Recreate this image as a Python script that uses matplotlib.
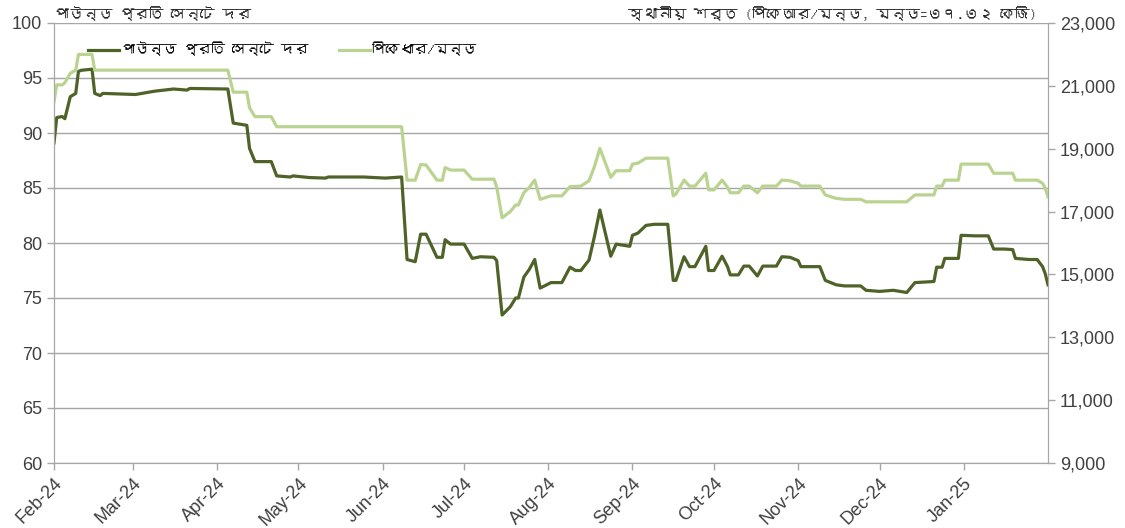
import numpy as np
import pandas as pd
import matplotlib
matplotlib.use("Agg")
import matplotlib.pyplot as plt
import matplotlib.font_manager as fm
from matplotlib.ft2font import FT2Font
from matplotlib.ticker import FuncFormatter, MultipleLocator

# data
dates = ["2024-02-01", "2024-02-02", "2024-02-04", "2024-02-05", "2024-02-07", "2024-02-09",
         "2024-02-10", "2024-02-11", "2024-02-15", "2024-02-16", "2024-02-18", "2024-02-19",
         "2024-03-02", "2024-03-09", "2024-03-16", "2024-03-21", "2024-03-22", "2024-04-05",
         "2024-04-07", "2024-04-12", "2024-04-13", "2024-04-15", "2024-04-21", "2024-04-23",
         "2024-04-28", "2024-04-29", "2024-05-05", "2024-05-11", "2024-05-12", "2024-05-25",
         "2024-06-02", "2024-06-08", "2024-06-10", "2024-06-13", "2024-06-15", "2024-06-17",
         "2024-06-21", "2024-06-23", "2024-06-24", "2024-06-26", "2024-07-01", "2024-07-04",
         "2024-07-07", "2024-07-12", "2024-07-13", "2024-07-15", "2024-07-18", "2024-07-20",
         "2024-07-21", "2024-07-23", "2024-07-25", "2024-07-27", "2024-07-29", "2024-08-02",
         "2024-08-06", "2024-08-09", "2024-08-11", "2024-08-13", "2024-08-16", "2024-08-18",
         "2024-08-20", "2024-08-24", "2024-08-26", "2024-08-31", "2024-09-01", "2024-09-03",
         "2024-09-06", "2024-09-09", "2024-09-14", "2024-09-16", "2024-09-17", "2024-09-20",
         "2024-09-22", "2024-09-24", "2024-09-28", "2024-09-29", "2024-10-01", "2024-10-04",
         "2024-10-06", "2024-10-07", "2024-10-10", "2024-10-12", "2024-10-14", "2024-10-17",
         "2024-10-19", "2024-10-24", "2024-10-26", "2024-10-29", "2024-11-01", "2024-11-02",
         "2024-11-09", "2024-11-11", "2024-11-15", "2024-11-18", "2024-11-24", "2024-11-26",
         "2024-12-01", "2024-12-06", "2024-12-11", "2024-12-14", "2024-12-21", "2024-12-22",
         "2024-12-24", "2024-12-25", "2024-12-30", "2024-12-31", "2025-01-05", "2025-01-10",
         "2025-01-12", "2025-01-16", "2025-01-19", "2025-01-20", "2025-01-25", "2025-01-28",
         "2025-01-30", "2025-01-31", "2025-02-01"]

cents_per_lb = [89.1, 91.4, 91.5, 91.3, 93.3, 93.6,
                95.6, 95.7, 95.8, 93.6, 93.4, 93.6,
                93.5, 93.8, 94.0, 93.9, 94.05, 94.0,
                90.9, 90.7, 88.6, 87.4, 87.4, 86.1,
                86.0, 86.1, 85.95, 85.9, 86.0, 86.0,
                85.9, 86.0, 78.5, 78.3, 80.8, 80.8,
                78.7, 78.7, 80.3, 79.9, 79.9, 78.6,
                78.75, 78.7, 78.4, 73.45, 74.2, 75.0,
                75.0, 76.9, 77.6, 78.5, 75.9, 76.4,
                76.4, 77.8, 77.5, 77.5, 78.45, 80.6,
                83.0, 78.8, 79.9, 79.7, 80.7, 80.9,
                81.6, 81.7, 81.7, 76.6, 76.6, 78.75,
                77.85, 77.85, 79.7, 77.5, 77.5, 78.8,
                77.85, 77.1, 77.1, 77.9, 77.9, 77.0,
                77.9, 77.9, 78.75, 78.7, 78.4, 77.85,
                77.85, 76.6, 76.2, 76.1, 76.1, 75.7,
                75.6, 75.7, 75.5, 76.4, 76.5, 77.8,
                77.8, 78.6, 78.6, 80.7, 80.65, 80.65,
                79.45, 79.45, 79.4, 78.6, 78.5, 78.5,
                77.85, 77.2, 76.2]

pkr_per_maund = [20500, 21030, 21030, 21100, 21400, 21500,
                 22000, 22000, 22000, 21500, 21500, 21500,
                 21500, 21500, 21500, 21500, 21500, 21500,
                 20800, 20800, 20300, 20020, 20020, 19700,
                 19700, 19700, 19700, 19700, 19700, 19700,
                 19700, 19700, 18000, 18000, 18500, 18480,
                 18000, 18000, 18400, 18320, 18320, 18030,
                 18030, 18030, 17790, 16800, 17000, 17210,
                 17210, 17600, 17770, 18000, 17390, 17500,
                 17500, 17790, 17800, 17810, 17980, 18430,
                 19010, 18090, 18300, 18300, 18510, 18540,
                 18700, 18700, 18700, 17500, 17560, 18000,
                 17810, 17810, 18220, 17690, 17690, 18000,
                 17770, 17600, 17600, 17810, 17810, 17600,
                 17810, 17810, 18000, 17980, 17900, 17810,
                 17810, 17530, 17420, 17390, 17390, 17310,
                 17310, 17310, 17310, 17530, 17530, 17810,
                 17810, 18000, 18000, 18510, 18510, 18510,
                 18220, 18220, 18220, 18000, 18000, 18000,
                 17900, 17740, 17470]

right_ticks = [9000, 11000, 13000, 15000, 17000, 19000, 21000, 23000]

left_title = "পাউন্ড প্রতি সেন্টে দর"
right_title = "স্থানীয় শর্ত (পিকেআর/মন্ড, মন্ড=৩৭.৩২ কেজি)"
label_cents = "পাউন্ড প্রতি সেন্টে দর"
label_pkr = "পিকেধার/মন্ড"

# find a font that can draw Bengali
bn_font = None
for f in fm.fontManager.ttflist:
    try:
        if 0x09AA in FT2Font(f.fname).get_charmap():
            bn_font = f.name
            break
    except Exception:
        pass
bn_family = [bn_font, "DejaVu Sans"] if bn_font else ["DejaVu Sans"]

plt.rcParams["font.family"] = ["Liberation Sans", "DejaVu Sans"]

x = pd.to_datetime(dates)
dark = "#4F6228"
light = "#BBD391"
grid_c = "#A6A6A6"
text_c = "#404040"

fig = plt.figure(figsize=(11.25, 5.28), dpi=100)
ax = fig.add_axes([54 / 1125, 65 / 528, 994 / 1125, 440 / 528])
ax2 = ax.twinx()

l1, = ax.plot(x, cents_per_lb, color=dark, lw=2.3, solid_joinstyle="round")
l2, = ax2.plot(x, pkr_per_maund, color=light, lw=2.3, solid_joinstyle="round")

ax.set_ylim(60, 100)
ax.yaxis.set_major_locator(MultipleLocator(5))
ax2.set_ylim(9000, 23000)
ax2.set_yticks(right_ticks)
ax2.yaxis.set_major_formatter(FuncFormatter(lambda v, p: f"{v:,.0f}"))

ax.set_xlim(pd.Timestamp("2024-02-01"), pd.Timestamp("2025-02-01"))
ticks = list(pd.date_range("2024-02-01", "2025-01-01", freq="MS"))
ax.set_xticks(ticks)
ax.set_xticklabels([t.strftime("%b-%y") for t in ticks], rotation=45,
                   ha="right", va="top", rotation_mode="anchor")

ax.grid(axis="y", color=grid_c, lw=1.0)
ax.set_axisbelow(True)
for a in (ax, ax2):
    for s in a.spines.values():
        s.set_color(grid_c)
    a.spines["top"].set_visible(False)
    a.tick_params(colors=grid_c, labelcolor=text_c, labelsize=13, length=5, width=1)

ax.legend([l1, l2], [label_cents, label_pkr], loc="upper left",
          bbox_to_anchor=(0.022, 0.985), ncol=2, frameon=False,
          handlelength=2.2, handletextpad=0.15, columnspacing=2.2,
          prop={"family": bn_family, "size": 10})

fig.text(54 / 1125, 1 - 14 / 528, left_title, family=bn_family, fontsize=10.5,
         color="#262626", ha="left", va="center")
fig.text(1037 / 1125, 1 - 14 / 528, right_title, family=bn_family, fontsize=10.5,
         color="#262626", ha="right", va="center")

fig.savefig("out.png", dpi=100)
